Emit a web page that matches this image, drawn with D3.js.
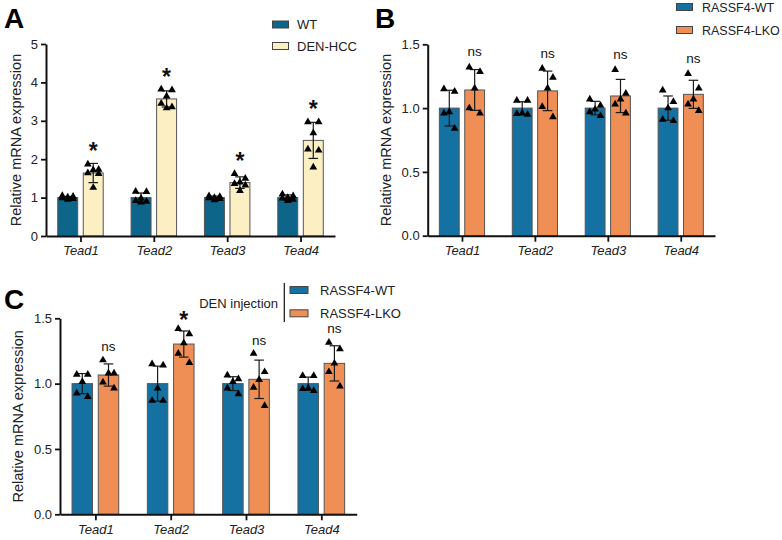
<!DOCTYPE html>
<html>
<head>
<meta charset="utf-8">
<script src="https://cdn.jsdelivr.net/npm/d3@7"></script>
<style>
  html, body { margin: 0; padding: 0; background: #fff; }
  svg { display: block; font-family: "Liberation Sans", Arial, sans-serif; }
</style>
</head>
<body>
<svg id="chart" width="782" height="540"></svg>
<script>
// ---------------- DATA ----------------
const genes = ["Tead1", "Tead2", "Tead3", "Tead4"];
const aTicks = [0, 1, 2, 3, 4, 5];
const bcTicks = [0, 0.5, 1.0, 1.5];

// Panel A: WT vs DEN-HCC
const aSeriesNames = ["WT", "DEN-HCC"];
const aWTMean = [1.0, 1.0, 1.0, 1.0];
const aWTSD = [0.03, 0.12, 0.04, 0.07];
const aWTPoints = [
  [1.05, 1.03, 1.01, 0.99, 0.97, 0.95],
  [1.16, 1.15, 0.98, 0.92, 0.90, 0.88],
  [1.04, 1.02, 1.00, 0.99, 0.97, 0.94],
  [1.09, 1.04, 1.00, 0.98, 0.95, 0.92]
];
const aDENMean = [1.64, 3.57, 1.39, 2.49];
const aDENSD = [0.25, 0.21, 0.15, 0.47];
const aDENPoints = [
  [1.87, 1.73, 1.72, 1.64, 1.62, 1.26],
  [3.82, 3.80, 3.64, 3.45, 3.36, 3.33],
  [1.62, 1.50, 1.40, 1.36, 1.32, 1.18],
  [2.97, 2.97, 2.68, 2.26, 2.23, 1.79]
];
const aSig = ["*", "*", "*", "*"];

// Panel B: RASSF4-WT vs RASSF4-LKO
const bSeriesNames = ["RASSF4-WT", "RASSF4-LKO"];
const bWTMean = [1.0, 1.0, 1.0, 1.0];
const bWTSD = [0.14, 0.05, 0.053, 0.095];
const bWTPoints = [
  [1.15, 1.13, 0.97, 0.96, 0.84],
  [1.06, 1.06, 0.96, 0.955, 0.95],
  [1.07, 1.02, 0.99, 0.97, 0.94],
  [1.14, 1.05, 1.00, 0.91, 0.90]
];
const bLKOMean = [1.142, 1.135, 1.095, 1.108];
const bLKOSD = [0.16, 0.155, 0.13, 0.11];
const bLKOPoints = [
  [1.32, 1.285, 1.155, 1.00, 0.96],
  [1.31, 1.24, 1.155, 1.01, 0.93],
  [1.30, 1.115, 1.07, 1.03, 0.96],
  [1.27, 1.155, 1.07, 1.03, 0.98]
];
const bSig = ["ns", "ns", "ns", "ns"];

// Panel C: DEN injection, RASSF4-WT vs RASSF4-LKO
const cSeriesNames = ["RASSF4-WT", "RASSF4-LKO"];
const cWTMean = [1.0, 1.0, 1.0, 1.0];
const cWTSD = [0.077, 0.134, 0.053, 0.05];
const cWTPoints = [
  [1.07, 1.07, 1.015, 0.926, 0.90],
  [1.15, 1.14, 0.965, 0.87, 0.87],
  [1.065, 1.035, 1.015, 0.965, 0.92],
  [1.06, 1.06, 0.965, 0.96, 0.945]
];
const cLKOMean = [1.066, 1.303, 1.033, 1.155];
const cLKOSD = [0.085, 0.10, 0.147, 0.135];
const cLKOPoints = [
  [1.18, 1.08, 1.08, 1.01, 0.965],
  [1.42, 1.38, 1.31, 1.23, 1.16],
  [1.23, 1.09, 1.03, 0.97, 0.83],
  [1.315, 1.265, 1.155, 1.09, 0.98]
];
const cSig = ["ns", "*", "ns", "ns"];
const cLegendTitle = "DEN injection";
const yLabel = "Relative mRNA expression";

// ---------------- STYLE ----------------
const colA1 = "#0e658a", colA2 = "#fbefc3";
const colB1 = "#1571a2", colB2 = "#ef8f56";
const jitter = [-1, 1, 0, -1, 1, 0];
const FONT = '"Liberation Sans", Arial, sans-serif';

const svg = d3.select("#chart");

function drawPanel(cfg) {
  const g = svg.append("g");
  const x = d3.scalePoint().domain(genes).range([cfg.x0, cfg.x1]).padding(0.47);
  const y = d3.scaleLinear().domain([0, cfg.ymax]).range([cfg.yb, cfg.yt]);
  const step = x.step();
  const bw = step * 0.272, gap = step * 0.038;
  const tri = d3.symbol().type(d3.symbolTriangle).size(26);

  cfg.series.forEach((s, si) => {
    const off = si === 0 ? -gap - bw : gap;
    const sg = g.append("g");
    sg.selectAll("rect").data(genes).join("rect")
      .attr("x", d => x(d) + off)
      .attr("y", (d, i) => y(s.mean[i]))
      .attr("width", bw)
      .attr("height", (d, i) => y(0) - y(s.mean[i]))
      .attr("fill", s.color)
      .attr("stroke", "#555")
      .attr("stroke-width", 1);
  });

  cfg.series.forEach((s, si) => {
    const off = si === 0 ? -gap - bw / 2 : gap + bw / 2;
    const eg = g.append("g").attr("stroke", "#1a1a1a").attr("stroke-width", 1.2);
    genes.forEach((gn, i) => {
      const cx = x(gn) + off;
      const hi = y(s.mean[i] + s.sd[i]), lo = y(s.mean[i] - s.sd[i]);
      eg.append("line").attr("x1", cx).attr("x2", cx).attr("y1", hi).attr("y2", lo);
      eg.append("line").attr("x1", cx - 4.8).attr("x2", cx + 4.8).attr("y1", hi).attr("y2", hi);
      eg.append("line").attr("x1", cx - 4.8).attr("x2", cx + 4.8).attr("y1", lo).attr("y2", lo);
    });
  });

  cfg.series.forEach((s, si) => {
    const off = si === 0 ? -gap - bw / 2 : gap + bw / 2;
    const pg = g.append("g");
    genes.forEach((gn, i) => {
      const cx = x(gn) + off;
      s.points[i].forEach((v, k) => {
        pg.append("path").attr("d", tri)
          .attr("transform", `translate(${cx + jitter[k % jitter.length] * bw * 0.27},${y(v)})`)
          .attr("fill", "#000");
      });
    });
  });

  const s2 = cfg.series[1];
  genes.forEach((gn, i) => {
    const cx = x(gn) + gap + bw / 2;
    const top = Math.max(d3.max(s2.points[i]), s2.mean[i] + s2.sd[i]);
    const cy = y(top) - cfg.sigGap;
    const lab = cfg.sig[i];
    if (lab === "*") {
      g.append("text").attr("x", cx).attr("y", cy + 12.5)
        .attr("text-anchor", "middle").attr("font-size", 23).attr("font-weight", "bold")
        .attr("fill", "#111").attr("font-family", FONT).text("*");
    } else {
      g.append("text").attr("x", cx).attr("y", cy + 4)
        .attr("text-anchor", "middle").attr("font-size", 13.5)
        .attr("fill", "#111").attr("font-family", FONT).text(lab);
    }
  });

  const ya = g.append("g").attr("transform", `translate(${cfg.x0},0)`)
    .call(d3.axisLeft(y).tickValues(cfg.ticks).tickFormat(cfg.fmt).tickSize(5).tickSizeOuter(0).tickPadding(3));
  ya.select(".domain").attr("stroke", "#111").attr("stroke-width", 2);
  ya.selectAll(".tick line").attr("stroke", "#111").attr("stroke-width", 1.8);
  ya.selectAll(".tick text").attr("font-size", 13).attr("fill", "#222").attr("font-family", FONT);

  const xa = g.append("g").attr("transform", `translate(0,${cfg.yb})`)
    .call(d3.axisBottom(x).tickSize(6).tickSizeOuter(0).tickPadding(4));
  xa.select(".domain").attr("stroke", "#111").attr("stroke-width", 2);
  xa.selectAll(".tick line").attr("stroke", "#111").attr("stroke-width", 1.8);
  xa.selectAll(".tick text").attr("font-size", 13).attr("font-style", "italic").attr("fill", "#222").attr("font-family", FONT);

  g.append("text")
    .attr("transform", `translate(${cfg.labelX},${(cfg.yb + cfg.yt) / 2}) rotate(-90)`)
    .attr("text-anchor", "middle").attr("dy", "0.36em")
    .attr("font-size", 14.5).attr("fill", "#222").attr("font-family", FONT)
    .text(yLabel);

  g.append("text").attr("x", cfg.letterX).attr("y", cfg.letterY)
    .attr("font-size", 28).attr("font-weight", "bold").attr("fill", "#000").attr("font-family", FONT)
    .text(cfg.letter);
}

function legend(items, x, ys, sw, sh, tx, fontSize) {
  const lg = svg.append("g");
  items.forEach((it, i) => {
    lg.append("rect").attr("x", x).attr("y", ys[i] - sh / 2).attr("width", sw).attr("height", sh)
      .attr("fill", it.color).attr("stroke", "#444").attr("stroke-width", 1);
    lg.append("text").attr("x", tx).attr("y", ys[i]).attr("dy", "0.36em")
      .attr("font-size", fontSize).attr("fill", "#222").attr("font-family", FONT).text(it.name);
  });
}

drawPanel({
  letter: "A", letterX: 4, letterY: 28,
  x0: 46, x1: 335, yb: 236, yt: 44, ymax: 5, ticks: aTicks, fmt: d3.format("d"),
  labelX: 16, sigGap: 17,
  series: [
    { name: aSeriesNames[0], color: colA1, mean: aWTMean, sd: aWTSD, points: aWTPoints },
    { name: aSeriesNames[1], color: colA2, mean: aDENMean, sd: aDENSD, points: aDENPoints }
  ],
  sig: aSig
});
legend([{ name: aSeriesNames[0], color: colA1 }, { name: aSeriesNames[1], color: colA2 }],
  272.5, [24.5, 46], 16, 7, 297, 13);

drawPanel({
  letter: "B", letterX: 375, letterY: 28,
  x0: 427.7, x1: 715, yb: 235.7, yt: 44.3, ymax: 1.5, ticks: bcTicks, fmt: d3.format(".1f"),
  labelX: 385.5, sigGap: 15,
  series: [
    { name: bSeriesNames[0], color: colB1, mean: bWTMean, sd: bWTSD, points: bWTPoints },
    { name: bSeriesNames[1], color: colB2, mean: bLKOMean, sd: bLKOSD, points: bLKOPoints }
  ],
  sig: bSig
});
legend([{ name: bSeriesNames[0], color: colB1 }, { name: bSeriesNames[1], color: colB2 }],
  676.5, [7, 30], 16, 7, 702, 12.5);

drawPanel({
  letter: "C", letterX: 4, letterY: 309,
  x0: 60, x1: 356.7, yb: 514.3, yt: 318.3, ymax: 1.5, ticks: bcTicks, fmt: d3.format(".1f"),
  labelX: 17.5, sigGap: 13,
  series: [
    { name: cSeriesNames[0], color: colB1, mean: cWTMean, sd: cWTSD, points: cWTPoints },
    { name: cSeriesNames[1], color: colB2, mean: cLKOMean, sd: cLKOSD, points: cLKOPoints }
  ],
  sig: cSig
});
legend([{ name: cSeriesNames[0], color: colB1 }, { name: cSeriesNames[1], color: colB2 }],
  290, [290, 313.3], 18, 7, 320, 13);
svg.append("text").attr("x", 278).attr("y", 303.3).attr("dy", "0.36em").attr("text-anchor", "end")
  .attr("font-size", 13).attr("fill", "#222").attr("font-family", FONT).text(cLegendTitle);
svg.append("line").attr("x1", 284.3).attr("x2", 284.3).attr("y1", 283).attr("y2", 322)
  .attr("stroke", "#111").attr("stroke-width", 1.2);
</script>
</body>
</html>
